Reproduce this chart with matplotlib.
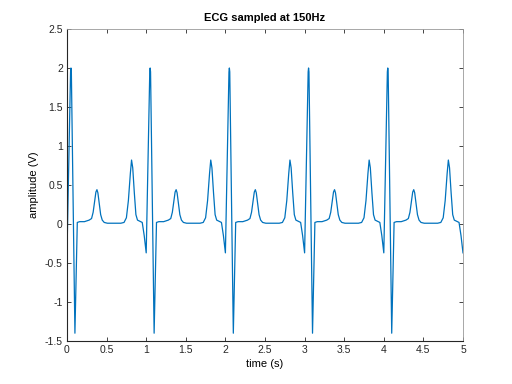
import numpy as np
import matplotlib
matplotlib.use('Agg')
import matplotlib.pyplot as plt

# one heartbeat (time offset in s, amplitude in V)
beat_t = [0.00, 0.045, 0.05, 0.055, 0.10, 0.13, 0.16, 0.22, 0.28, 0.31,
          0.33, 0.35, 0.365, 0.378, 0.39, 0.405, 0.425, 0.445, 0.47, 0.51,
          0.60, 0.68, 0.72, 0.75, 0.775, 0.80, 0.815, 0.83, 0.85, 0.87,
          0.89, 0.95, 0.975]
beat_v = [-0.37, 1.95, 2.00, 1.95, -1.40, 0.02, 0.03, 0.03, 0.05, 0.07,
          0.15, 0.30, 0.41, 0.44, 0.40, 0.28, 0.12, 0.05, 0.02, 0.01,
          0.01, 0.01, 0.02, 0.08, 0.30, 0.65, 0.82, 0.72, 0.40, 0.12,
          0.05, 0.02, -0.15]
beat_starts = [0, 1, 2, 3, 4]
end_t, end_v = 5.0, -0.37

t = np.concatenate([np.array(beat_t) + s for s in beat_starts] + [[end_t]])
v = np.concatenate([beat_v for _ in beat_starts] + [[end_v]])

plt.rcParams['font.family'] = ['Liberation Sans', 'DejaVu Sans']

fig = plt.figure(figsize=(5.12, 3.84), dpi=100)
ax = fig.add_axes([67/512, 43/384, 396/512, 312/384])
ax.plot(t, v, color='#0072BD', linewidth=0.9)

ax.set_xlim(0, 5)
ax.set_ylim(-1.5, 2.5)
ax.set_xticks(np.arange(0, 5.01, 0.5))
ax.set_yticks(np.arange(-1.5, 2.51, 0.5))
ax.set_xticklabels(['0', '0.5', '1', '1.5', '2', '2.5', '3', '3.5', '4', '4.5', '5'])
ax.set_yticklabels(['-1.5', '-1', '-0.5', '0', '0.5', '1', '1.5', '2', '2.5'])
ax.tick_params(direction='in', top=True, right=True, length=3, width=0.6,
               labelsize=7.5, colors='#262626', pad=3)
for side in ['bottom', 'left']:
    ax.spines[side].set_color('#262626')
    ax.spines[side].set_linewidth(0.8)
for side in ['top', 'right']:
    ax.spines[side].set_color('#999999')
    ax.spines[side].set_linewidth(0.6)

ax.set_title('ECG sampled at 150Hz', fontsize=8, fontweight='bold', pad=6)
ax.set_xlabel('time (s)', fontsize=8, labelpad=3)
ax.set_ylabel('amplitude (V)', fontsize=8, labelpad=4)

fig.savefig('out.png', dpi=100)
